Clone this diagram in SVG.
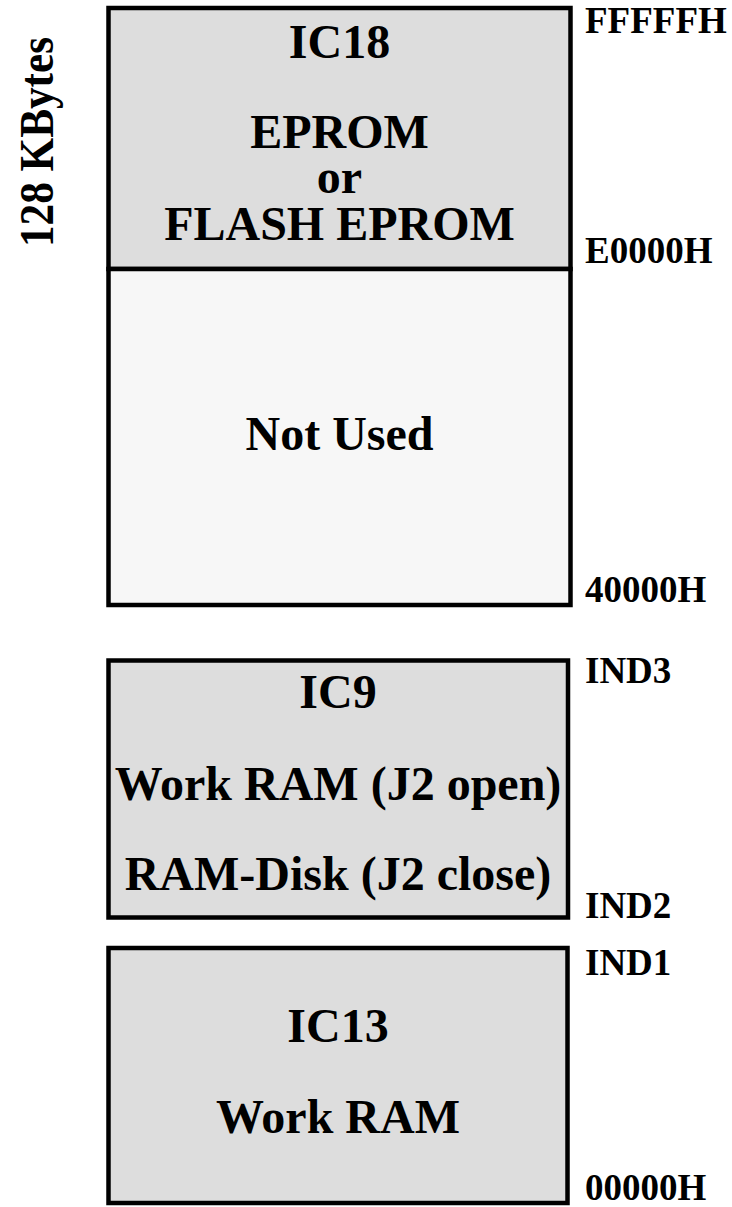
<svg xmlns="http://www.w3.org/2000/svg" width="732" height="1207" viewBox="0 0 732 1207">
  <style>
    .box { stroke: #000; stroke-width: 4.5; }
    .rom { fill: #dddddd; }
    .free { fill: #f7f7f7; }
    .ram { fill: #dddddd; }
    text { font-family: "Liberation Serif", "Times New Roman", serif; font-weight: bold; fill: #000; }
    .in { font-size: 48px; text-anchor: middle; }
    .addr { font-size: 37px; }
    .size { font-size: 48px; text-anchor: middle; }
  </style>
  <rect width="732" height="1207" fill="#ffffff"/>

  <!-- total size label -->
  <text class="size" transform="translate(53,142) rotate(-90)" textLength="210" lengthAdjust="spacingAndGlyphs">128 KBytes</text>

  <!-- upper region: EPROM and unused space -->
  <g id="ic18">
    <rect class="box rom" x="108.5" y="8" width="462" height="261"/>
    <text class="in" x="339.5" y="58">IC18</text>
    <text class="in" x="339.5" y="148">EPROM</text>
    <text class="in" x="339.5" y="193">or</text>
    <text class="in" x="339.5" y="240">FLASH EPROM</text>
  </g>
  <g id="not-used">
    <rect class="box free" x="108.5" y="269" width="462" height="336"/>
    <text class="in" x="339.5" y="450">Not Used</text>
  </g>

  <!-- RAM chips -->
  <g id="ic9">
    <rect class="box ram" x="108.5" y="660.5" width="459.5" height="257"/>
    <text class="in" x="338" y="708">IC9</text>
    <text class="in" x="338" y="800">Work RAM (J2 open)</text>
    <text class="in" x="338" y="890">RAM-Disk (J2 close)</text>
  </g>
  <g id="ic13">
    <rect class="box ram" x="108.5" y="948" width="459" height="255"/>
    <text class="in" x="338" y="1042">IC13</text>
    <text class="in" x="338" y="1133">Work RAM</text>
  </g>

  <!-- address labels -->
  <g id="addresses">
    <text class="addr" x="585" y="33">FFFFFH</text>
    <text class="addr" x="585" y="263">E0000H</text>
    <text class="addr" x="585" y="602">40000H</text>
    <text class="addr" x="585" y="683">IND3</text>
    <text class="addr" x="585" y="918">IND2</text>
    <text class="addr" x="585" y="975">IND1</text>
    <text class="addr" x="585" y="1200">00000H</text>
  </g>

  <g id="connectors"/>
</svg>
